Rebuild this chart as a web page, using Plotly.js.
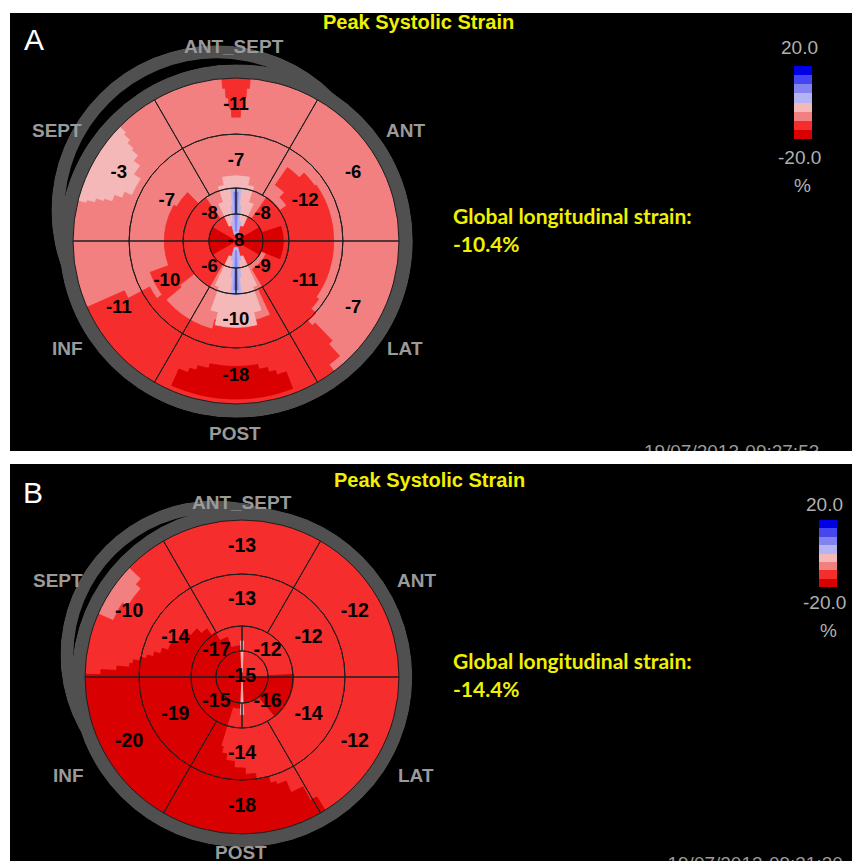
<!DOCTYPE html>
<html><head><meta charset="utf-8">
<script src="https://cdn.plot.ly/plotly-3.0.1.min.js"></script>
<style>html,body{margin:0;padding:0;background:#fff;}#chart{width:852px;height:861px;}</style>
</head><body><div id="chart"></div>
<script>
// ---------------- data ----------------
const walls = ["ANT_SEPT", "ANT", "LAT", "POST", "INF", "SEPT"];
const wallTheta = [90, 30, 330, 270, 210, 150];          // segment centres (deg, CCW from east)
const apicalTheta = [135, 45, 225, 315];                 // UL, UR, LL, LR

const basalA = [-11, -6, -7, -18, -11, -3];
const midA = [-7, -12, -11, -10, -10, -7];
const apicalA = [-8, -8, -6, -9];
const apexA = -8;
const glsA = -10.4;
const dateA = "19/07/2013-09:27:53";

const basalB = [-13, -12, -12, -18, -20, -10];
const midB = [-13, -12, -14, -14, -19, -14];
const apicalB = [-17, -12, -15, -16];
const apexB = -15;
const glsB = -14.4;
const dateB = "19/07/2013-09:31:30";

const scaleMin = -20, scaleMax = 20;
const scaleTicks = ["20.0", "-20.0", "%"];

// displayed (smoothed) strain map:
// [strain level %, theta from, theta to, r from, r to]
const mapA = [
  [-7.5, 0, 360, 0, 1],
  [-12.5, 216, 300, .56, 1],
  [-12.5, 255, 320, .5, .56],
  [-12.5, 204, 216, .75, 1],
  [-12.5, 208, 216, .6, .75],
  [-12.5, 300, 312, .55, .7],
  [-12.5, 300, 314, .7, .85],
  [-12.5, 300, 312, .85, .95],
  [-12.5, 300, 307, .95, 1],
  [-12.5, -35, 35, .33, .6],
  [-12.5, 35, 45, .38, .59],
  [-12.5, 45, 55, .42, .55],
  [-12.5, -42, -35, .33, .62],
  [-12.5, -48, -42, .33, .66],
  [-12.5, -65, -48, .33, .6],
  [-12.5, 0, 55, .166, .33],
  [-12.5, -60, 0, .2, .33],
  [-17.5, -22, 18, .14, .29],
  [-12.5, 125, 240, .166, .32],
  [-12.5, 150, 218, .32, .44],
  [-12.5, 135, 150, .3, .42],
  [-12.5, 200, 220, .44, .56],
  [-12.5, 88, 92, .76, .82],
  [-12.5, 87, 93, .82, .88],
  [-12.5, 86, 94, .88, .94],
  [-12.5, 85, 95, .94, 1],
  [-2.5, 147, 156, .70, .75],
  [-2.5, 142, 159, .75, .8],
  [-2.5, 139, 162, .8, .85],
  [-2.5, 138, 163, .85, .9],
  [-2.5, 136.5, 164.5, .9, .95],
  [-2.5, 135.5, 165.5, .95, 1],
  [-17.5, 258, 280, .77, .8],
  [-17.5, 253, 284, .8, .83],
  [-17.5, 250, 287, .83, .86],
  [-17.5, 246, 291, .86, .97],
  [-12.5, 0, 360, 0, .166],
  [-17.5, 150, 210, .02, .166],
  [-17.5, -30, 30, .02, .166],
  [-2.5, 65, 115, .1, .25],
  [-2.5, 72, 108, .25, .35],
  [-2.5, 78, 102, .35, .4],
  [-2.5, 245, 295, .1, .3],
  [-2.5, 250, 290, .3, .45],
  [-2.5, 256, 284, .45, .53],
  [2.5, 75, 105, .04, .12],
  [2.5, 82, 98, .12, .22],
  [2.5, 84.5, 95.5, .22, .33],
  [2.5, 255, 285, .04, .12],
  [2.5, 262, 278, .12, .22],
  [2.5, 264.5, 275.5, .22, .33],
  [7.5, 87.5, 92.5, .06, .3],
  [7.5, 267.5, 272.5, .06, .3]
];
const mapB = [
  [-12.5, 0, 360, 0, 1],
  [-17.5, 93, 270, 0, .2],
  [-17.5, 110, 253, .2, .27],
  [-17.5, 121, 253, .27, .33],
  [-17.5, 126, 253, .33, .38],
  [-17.5, 133, 253, .38, .42],
  [-17.5, 141, 253, .42, .46],
  [-17.5, 152, 255, .46, .5],
  [-17.5, 160, 259, .5, .54],
  [-17.5, 164, 265, .54, .58],
  [-17.5, 167, 272, .58, .62],
  [-17.5, 169, 278, .62, .66],
  [-17.5, 171, 285, .66, .7],
  [-17.5, 173, 288, .7, .72],
  [-17.5, 175, 293, .72, .8],
  [-17.5, 177, 299, .8, .9],
  [-17.5, 179, 302, .9, 1],
  [-17.5, -90, 0, 0, .166],
  [-17.5, -50, 3, .166, .33],
  [-7.5, 136, 156, .9, 1],
  [-7.5, 139, 148, .86, .9],
  [-2.5, 87.5, 92.5, .03, .23],
  [-2.5, 267.5, 272.5, .03, .24]
];

// ---------------- styling / geometry ----------------
const W = 852, H = 861;
const px = x => x / W;
const py = y => 1 - y / H;
const bandColors = ['#d80000', '#f52d2d', '#f28080', '#f5b8b8', '#b4b4f4', '#8282f0', '#4646f0', '#0000e6'];
const colorscale = [];
bandColors.forEach((c, i) => { colorscale.push([i / 8, c]); colorscale.push([(i + 1) / 8, c]); });
const bandOf = v => bandColors[Math.max(0, Math.min(7, Math.floor((v - scaleMin) / 5)))];
const ringEdges = [0, 0.166, 0.325, 0.656, 1.0];
const labelR = [0, 0.23, 0.49, 0.83];
const RING = 0.085;
const GRAY = '#505050';
const FONT = 'Liberation Sans, Arial, sans-serif';

function mapTrace(map, sub, cb) {
  return {
    type: 'barpolar', subplot: sub,
    theta: map.map(m => (m[1] + m[2]) / 2),
    width: map.map(m => m[2] - m[1]),
    base: map.map(m => m[3]),
    r: map.map(m => m[4] - m[3]),
    marker: {color: map.map(m => m[0]), colorscale: colorscale, cmin: scaleMin, cmax: scaleMax,
             line: {width: 0.8, color: map.map(m => bandOf(m[0]))}, showscale: true, colorbar: cb},
    hoverinfo: 'skip', showlegend: false
  };
}
function ringTrace(sub, base, len) {
  return {type: 'barpolar', subplot: sub, theta: [180], width: [360], base: [base], r: [len],
          marker: {color: GRAY, line: {width: 0}}, hoverinfo: 'skip', showlegend: false};
}
function outlineTrace(sub) {
  const th = [], w = [], b = [], r = [];
  wallTheta.forEach(t => { th.push(t); w.push(60); b.push(ringEdges[3]); r.push(ringEdges[4] - ringEdges[3]); });
  wallTheta.forEach(t => { th.push(t); w.push(60); b.push(ringEdges[2]); r.push(ringEdges[3] - ringEdges[2]); });
  apicalTheta.forEach(t => { th.push(t); w.push(90); b.push(ringEdges[1]); r.push(ringEdges[2] - ringEdges[1]); });
  [90, 270].forEach(t => { th.push(t); w.push(180); b.push(0); r.push(ringEdges[1]); });
  return {type: 'barpolar', subplot: sub, theta: th, width: w, base: b, r: r,
          marker: {color: 'rgba(0,0,0,0)', line: {color: '#1e1e1e', width: 1}},
          hoverinfo: 'skip', showlegend: false};
}
function labelTrace(sub, basal, mid, apical, apex, size) {
  const r = [], th = [], tx = [];
  basal.forEach((v, i) => { r.push(labelR[3]); th.push(wallTheta[i]); tx.push(String(v)); });
  mid.forEach((v, i) => { r.push(labelR[2]); th.push(wallTheta[i]); tx.push(String(v)); });
  apical.forEach((v, i) => { r.push(labelR[1]); th.push(apicalTheta[i]); tx.push(String(v)); });
  r.push(0); th.push(0); tx.push(String(apex));
  return {type: 'scatterpolar', subplot: sub, mode: 'text', r: r, theta: th, text: tx,
          textposition: 'middle center', cliponaxis: false,
          textfont: {family: FONT, size: size, color: '#000000', weight: 700},
          hoverinfo: 'skip', showlegend: false};
}
function cbar(x, yc, len) {
  return {x: px(x), xanchor: 'left', xpad: 0, y: py(yc), yanchor: 'middle', ypad: 0,
          len: len, lenmode: 'pixels', thickness: 18, thicknessmode: 'pixels',
          outlinewidth: 0, borderwidth: 0, showticklabels: false, ticks: '', bgcolor: 'rgba(0,0,0,0)'};
}
function polarLayout(cx, cy, half, rmax) {
  return {domain: {x: [px(cx - half), px(cx + half)], y: [py(cy + half), py(cy - half)]},
          bgcolor: 'rgba(0,0,0,0)', barmode: 'overlay', bargap: 0, hole: 0,
          radialaxis: {visible: false, range: [0, rmax]},
          angularaxis: {visible: false, rotation: 0, direction: 'counterclockwise'}};
}
function ann(text, x, y, size, color, extra) {
  return Object.assign({text: text, x: px(x), y: py(y), xref: 'paper', yref: 'paper', showarrow: false,
    xanchor: 'center', yanchor: 'middle', font: {family: FONT, size: size, color: color}}, extra || {});
}

const traces = [
  // panel A
  ringTrace('polar', 0.921, 0.079),
  mapTrace(mapA, 'polar2', cbar(794, 102.5, 73)),
  ringTrace('polar2', 1.0, RING),
  outlineTrace('polar2'),
  labelTrace('polar2', basalA, midA, apicalA, apexA, 18.5),
  // panel B
  ringTrace('polar3', 0.916, 0.084),
  mapTrace(mapB, 'polar4', cbar(819, 553.5, 67)),
  ringTrace('polar4', 1.0, RING),
  outlineTrace('polar4'),
  labelTrace('polar4', basalB, midB, apicalB, apexB, 19.5),
  // clipped time stamps
  {type: 'scatter', xaxis: 'x', yaxis: 'y', mode: 'text', x: [0.857], y: [-0.006], text: [dateA],
   textfont: {family: FONT, size: 19, color: '#9a9a9a'}, cliponaxis: true, hoverinfo: 'skip', showlegend: false},
  {type: 'scatter', xaxis: 'x2', yaxis: 'y2', mode: 'text', x: [0.885], y: [-0.01], text: [dateB],
   textfont: {family: FONT, size: 19, color: '#9a9a9a'}, cliponaxis: true, hoverinfo: 'skip', showlegend: false}
];

const YEL = '#f0f000', WALL = '#9a9a9a', CB = '#b0b0b0';
const bold = {family: FONT, weight: 700};
const wallPosA = [[234, 46], [405, 131], [405, 348], [235, 433], [67, 348], [57, 131]];
const wallPosB = [[242, 502], [416, 580], [416, 775], [241, 852], [68, 775], [58, 580]];
const annotations = [];
function addPanel(letter, lpos, tpos, wallPos, gls, gpos, cbpos) {
  annotations.push(ann(letter, lpos[0], lpos[1], 30, '#ffffff'));
  annotations.push(ann('Peak Systolic Strain', tpos[0], tpos[1], 20, YEL, {font: Object.assign({size: 20, color: YEL}, bold)}));
  walls.forEach((w, i) => annotations.push(ann(w, wallPos[i][0], wallPos[i][1], 19, WALL,
    {font: Object.assign({size: 19, color: WALL}, bold)})));
  const gf = {family: 'Lato, sans-serif', size: 21, color: YEL, weight: 700};
  annotations.push(ann('Global longitudinal strain:', gpos[0], gpos[1], 21, YEL, {xanchor: 'left', font: gf}));
  annotations.push(ann(gls.toFixed(1) + '%', gpos[0], gpos[2], 21, YEL, {xanchor: 'left', font: gf}));
  scaleTicks.forEach((t, i) => annotations.push(ann(t, cbpos[i][0], cbpos[i][1], 19, CB)));
}
addPanel('A', [34, 40], [418, 22], wallPosA, glsA, [451, 216, 243], [[799, 48], [799.5, 157], [802, 185]]);
addPanel('B', [33, 493], [430, 480], wallPosB, glsB, [451, 660, 688], [[824, 505], [824.5, 602], [828, 630]]);

const layout = {
  width: W, height: H, margin: {l: 0, r: 0, t: 0, b: 0},
  paper_bgcolor: '#ffffff', plot_bgcolor: '#000000', showlegend: false,
  xaxis: {domain: [px(10), 1], range: [0, 1], visible: false, fixedrange: true},
  yaxis: {domain: [py(451), py(13)], range: [0, 1], visible: false, fixedrange: true},
  xaxis2: {domain: [px(10), 1], range: [0, 1], visible: false, fixedrange: true, anchor: 'y2'},
  yaxis2: {domain: [0, py(464)], range: [0, 1], visible: false, fixedrange: true, anchor: 'x2'},
  polar: polarLayout(216.7, 210.6, 165.3, 1),
  polar2: polarLayout(236, 241, 163 * (1 + RING), 1 + RING),
  polar3: polarLayout(215, 655, 154.6, 1),
  polar4: polarLayout(242, 677, 157 * (1 + RING), 1 + RING),
  annotations: annotations
};

Plotly.newPlot('chart', traces, layout, {displayModeBar: false, staticPlot: true});
</script>
</body></html>
